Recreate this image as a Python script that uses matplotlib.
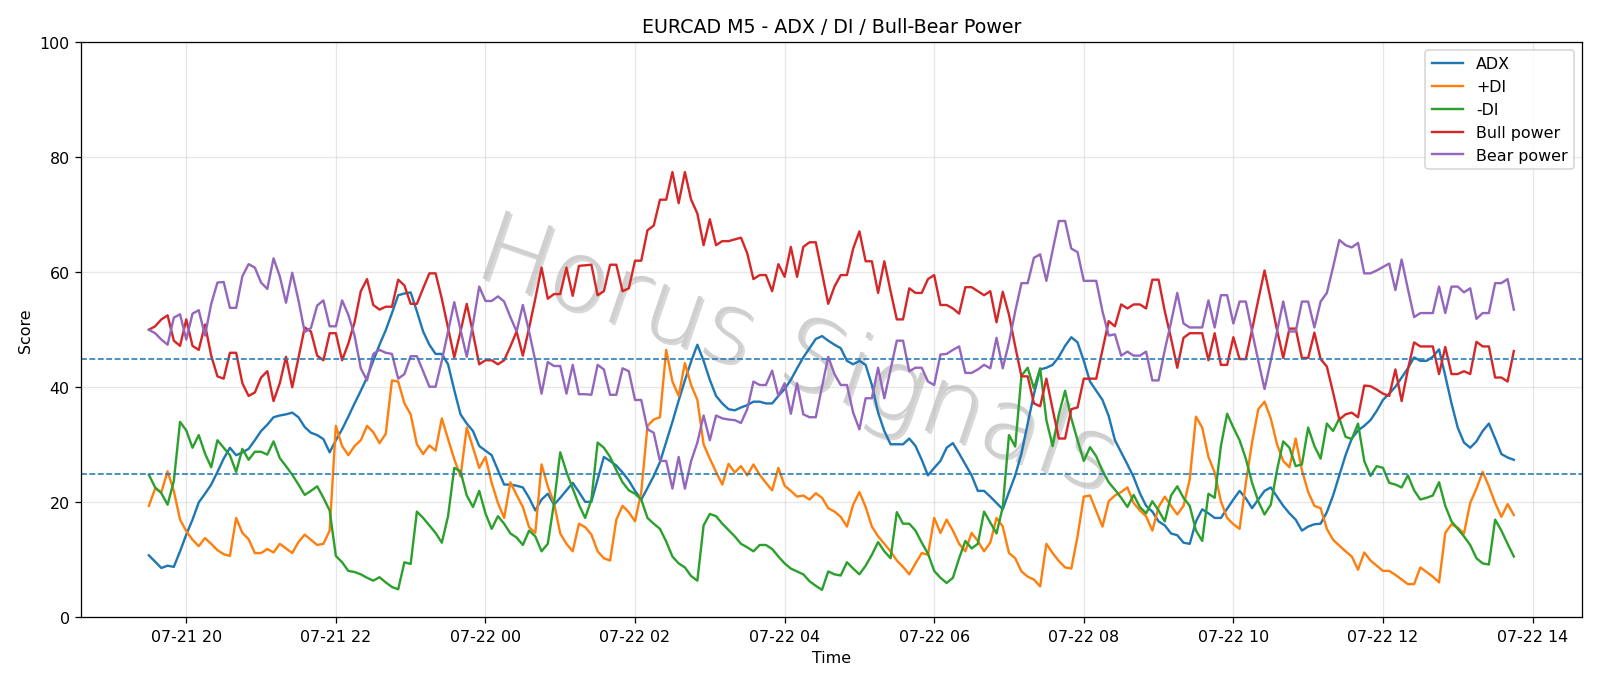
import matplotlib
matplotlib.use("Agg")
import matplotlib.pyplot as plt
import matplotlib.dates as mdates
import matplotlib.patheffects as pe
import pandas as pd

start_time = "2025-07-21 19:30"
n_points = 220
times = pd.date_range(start=start_time, periods=n_points, freq="5min")

adx = [10.8, 9.7, 8.6, 9.0, 8.8, 11.5, 14.4, 17, 20, 21.5, 23.1, 25.3, 27.6, 29.5, 28.2, 28.7, 29.3, 30.8, 32.4, 33.5,
       34.8, 35.1, 35.3, 35.6, 34.8, 33.1, 32.1, 31.7, 31.0, 28.7, 30.8, 32.7, 34.9, 37.2, 39.4, 41.7, 44.6, 47.4, 49.9,
       52.9, 56, 56.3, 56.5, 53.2, 49.7, 47.4, 45.8, 45.8, 44, 39.5, 35.3, 33.7, 32.4, 29.8, 29, 28.2, 25.6, 23.1, 23.1,
       22.9, 22.6, 20.8, 18.6, 20.5, 21.5, 19.6, 20.8, 22.1, 23.4, 21.8, 20.1, 20.1, 24, 27.9, 27.2, 26.4, 25.2, 23.8,
       22, 20.5, 22.5, 24.6, 27, 30.5, 34, 37.7, 41.2, 44.5, 47.4, 44.6, 41.3, 38.5, 37.2, 36.2, 36, 36.5, 36.9, 37.5,
       37.5, 37.2, 37.2, 38.5, 39.7, 41.3, 43.3, 45.2, 46.8, 48.4, 48.9, 48.1, 47.4, 46.8, 44.6, 44, 44.6, 43.9,
       40.4, 35.6, 32.4, 30.1, 30.1, 30.1, 31.1, 29.8, 27.4, 24.7, 26, 27.2, 29.5, 30.3, 28.5, 26.6, 24.7, 22, 22, 21,
       19.9, 18.8, 21.8, 24.7, 28.5, 33.7, 38.8, 43.1, 43.4, 43.9, 45.3, 47.2, 48.7, 47.8, 44.6, 41, 39.4, 37.8, 35,
       30.8, 28.7, 26.6, 24.4, 21.6, 19.4, 18.4, 16.7, 16, 14.6, 14.3, 13, 12.8, 16.7, 18.8, 18.1, 17.3, 17.3, 18.9,
       20.5, 22, 20.7, 19, 20.5, 22, 22.6, 21, 19.4, 18.1, 17, 15.1, 15.8, 16.2, 16.3, 18.3, 21.2, 24.7, 28.2,
       31.1, 32.5, 33.3, 34.3, 35.9, 37.8, 38.9, 40.1, 41.7, 43.3, 45.2, 44.6, 44.6, 45.3, 46.6, 42, 37.2, 33, 30.4,
       29.5, 30.6, 32.4, 33.7, 31.1, 28.4, 27.8, 27.4]

plus_di = [19.4, 22.4, 21.8, 25.4, 22, 17, 15, 13.5, 12.4, 13.8, 12.8, 11.7, 11, 10.7, 17.3, 14.7, 13.6, 11.2, 11.2,
           11.9, 11.3, 12.8, 12, 11.2, 13.1, 14.4, 13.5, 12.6, 12.8, 15.1, 33.3, 29.8, 28.2, 29.8, 30.8, 33.3, 32.2,
           30.3, 31.9,
           41.2, 41, 37.2, 35.3, 30.1, 28.4, 29.9, 29, 34.6, 31, 27.5, 24.5, 33, 29.5, 26, 27.9, 23.4, 19.9, 17.3, 23.5,
           21.3, 19.2, 15.7, 14.7, 26.6, 22.8, 19.9, 14.6, 12.8, 11.5, 16.3, 15.7, 14.4, 11.5, 10.3, 9.9, 17, 19.4, 18.3,
           16.7, 21.8, 33.3, 34.4, 34.8, 46.5, 41, 38.5, 44.2, 40.4, 37.8, 30.1, 27.6, 25.3, 23.1, 26.7, 25.2, 26.3,
           24.7, 26.6, 24.8, 23.4, 22.1, 26, 22.9, 22, 21, 21.2, 20.5, 21.6, 20.8, 19, 18.4, 17.5, 15.8, 19.6, 21.8, 19.2,
           15.8, 14.1, 12.8, 11.5, 9.9, 8.8, 7.5, 9.4, 11.2, 10.9, 17.3, 14.7, 17, 15.1, 12.8, 11.5, 14.7, 13.3, 11.5,
           13, 17.3, 15.8, 11.2, 10.3, 8, 7.1, 6.6, 5.4, 12.8, 11.2, 9.8, 8.7, 8.5, 14.1, 21, 21.2, 18.5, 15.8, 20.2,
           21.2, 21.8, 22.6, 19.9, 18.6, 17.6, 15.1, 19.2, 21, 19.4, 17.9, 19.4, 24, 34.9, 33, 27.9, 25.2, 20.2, 17.3,
           16.2, 15.4, 23.4, 30.4, 36.2, 37.5, 34.6, 30.1, 27.2, 26.1, 31.1, 25.6, 21.8, 19.4, 19, 15.4, 13.5, 12.5, 11.5,
           10.6, 8.3, 11.3, 9.9, 9, 8.1, 8.1, 7.4, 6.6, 5.8, 5.8, 8.7, 7.9, 7.1, 6.1, 14.7, 16.2, 15.6, 14.6, 19.9, 22.4,
           25.3, 22.8, 19.9, 17.5, 19.7, 17.8]

minus_di = [24.8, 22.6, 21.6, 19.6, 23.7, 34, 32.5, 29.5, 31.7, 28.5, 26.1, 30.8, 29.5, 28.2, 25.3, 29.3, 27.4, 28.8,
            28.8, 28.3, 30.6, 27.7, 26.3, 24.8, 23.1, 21.3, 22, 22.8, 20.8, 18.6, 10.7, 9.6, 8.1, 7.9, 7.5, 6.9, 6.4,
            7, 6.1,
            5.3, 4.9, 9.6, 9.3, 18.4, 17.3, 16, 14.7, 13, 17.6, 26, 25.4, 21.2, 19.2, 22, 18.1, 15.4, 17.6, 16.3, 14.6,
            13.9, 12.6, 15.1, 14.1, 11.5, 12.8, 19.9, 28.7, 25.3, 22.4, 19.6, 17.3, 20.5, 30.4, 29.5, 27.9, 25.6, 23.5,
            22.1,
            21.5, 20.5, 17.3, 16.3, 15.4, 13.2, 10.6, 9.4, 8.7, 7.2, 6.4, 16, 18, 17.6, 16.3, 15.2, 14.1, 12.8, 12.2,
            11.5, 12.6, 12.6, 11.9, 10.6, 9.4, 8.5, 8, 7.5, 6.3, 5.5, 4.8, 8, 7.5, 7.3, 9.6, 8.5, 7.5, 9,
            10.9, 13.1, 11.5, 10.3, 18.3, 16.3, 16.3, 15.1, 13, 11.1, 8.1, 6.9, 6, 6.9, 10.3, 13.3, 12, 12.8, 18.4, 16.5,
            14.6, 19.2, 31.7, 29.7, 42, 43.4, 39.8, 43.3, 34.3, 29.8, 35.3, 39.4, 34.6, 30.8, 27.2, 29.6, 28, 25.5, 23.5,
            22.2, 20.8, 19.2, 21.3, 19.2, 18.1, 20.2, 18.6, 16.7, 21.2, 22.8, 20.8, 19.4, 15.1, 13.3, 21.5, 20.8, 29.8,
            35.4, 33, 30.8, 27.6, 23.4, 20.2, 17.9, 19.6, 25.6, 30.6, 29.5, 26.3, 26.6, 33, 29.8, 27.6, 33.7, 32.4, 34.6,
            31.4,
            31, 33.7, 27.2, 24.6, 26.3, 26, 23.4, 23.1, 22.6, 24.7, 22.1, 20.5, 20.8, 21.2, 23.5, 19.4, 16.7, 15.4, 14.1,
            12.6, 10.3, 9.4, 9.2, 17, 15.1, 12.8, 10.6]

bull_power = [50, 50.6, 51.8, 52.5, 48.1, 47.2, 51.8, 47.2, 46.5, 50.9, 45.5, 41.9, 41.5, 46, 46, 40.7, 38.5, 39.1,
              41.7, 42.8, 37.6, 40.7, 45.3, 40, 45.1, 50.4, 49.7, 45.5, 44.7, 49.4, 49.4, 44.7, 47.6, 51.3, 56.7, 58.8,
              54.3, 53.5, 54,
              54, 58.7, 57.7, 54.5, 54.5, 57.2, 59.8, 59.8, 55.4, 50.3, 45.2, 49.7, 54.5, 49.4, 44, 44.7, 44.7, 44, 44.7,
              47.1, 49.7, 45.5, 50.3, 55.4, 60.8, 55.4, 56.2, 56.2, 60.8, 55.9, 61.1, 61.2, 61.3, 56, 56.7, 61.3, 61.3,
              56.7, 57.2,
              62, 62, 67.3, 68.1, 72.6, 72.6, 77.4, 72, 77.4, 72.6, 70.2, 64.7, 69.2, 64.7, 65.4, 65.4, 65.7, 66, 63.3,
              58.8, 59.5, 59.5, 56.7, 61.4, 59.2, 64.4, 59.2, 64.4, 65.2, 65.2, 59.9, 54.5, 57.5, 59.5, 59.5, 64.1, 67.1,
              61.9,
              61.9, 56.4, 61.9, 56.7, 51.8, 51.8, 57.2, 56.4, 56.4, 58.8, 59.5, 54.3, 54.3, 53.7, 52.8, 57.4, 57.4, 56.7,
              56, 56.7, 51.3, 56.6, 52.6, 47.1, 41.9, 41.9, 37.2, 36.7, 41.5, 36.2, 31.1, 31.1, 36.2, 36.5, 41.5, 41.5,
              41.5, 46.5, 51.5,
              50.6, 54.4, 53.7, 54.4, 54.4, 53.7, 58.7, 58.7, 53.2, 48.5, 43.4, 48.6, 49.4, 49.4, 49.4, 44.7, 49.4, 43.9,
              43.9, 48.7, 44.9, 44.9, 50, 55.2, 60.3, 55.2, 50, 45.1, 50.2, 50.2, 45.1, 45.1, 49.5, 44.9, 43.6, 39.1,
              34.4, 35.3,
              35.6, 34.8, 40.3, 40.2, 39.6, 38.9, 38.5, 43.1, 37.6, 43.1, 47.8, 47.1, 47.1, 47.1, 42.3, 47, 42.3, 42.3,
              42.8, 42.3, 47.9, 47.1, 47.1, 41.7, 41.7, 41, 46.3]

bear_power = [50, 49.4, 48.3, 47.4, 52.1, 52.7, 48.3, 52.8, 53.4, 49, 54.5, 58.2, 58.3, 53.8, 53.8, 59.3, 61.4, 60.8,
              58.2, 57.1, 62.4, 59.3, 54.7, 59.9, 55.1, 49.6, 50.3, 54.2, 55.1, 50.6, 50.6, 55.1, 52.6, 49, 43.3, 41.2,
              45.8, 46.5, 46,
              45.8, 41.5, 42.3, 45.4, 45.4, 42.8, 40.1, 40.1, 44.6, 49.7, 54.8, 50, 45.3, 51, 57.5, 55, 55, 55.8, 54.9,
              52.2, 49.7, 54.3, 49.7, 44.6, 38.9, 44.4, 43.7, 43.7, 38.9, 43.9, 38.8, 38.8, 38.7, 43.9, 43.1, 38.7, 38.7,
              43.3, 42.8,
              37.8, 37.8, 32.7, 32.1, 27.2, 27.2, 22.4, 27.9, 22.4, 27.2, 30.4, 35.1, 30.8, 35.1, 34.6, 34.4, 34.3, 33.8,
              36.2, 41, 40.4, 40.4, 42.9, 38.5, 40.7, 35.4, 40.7, 35.3, 34.8, 34.8, 40.1, 45.3, 42.3, 40.4, 40.4, 35.6,
              32.7, 38.1,
              38.1, 43.4, 38.1, 43.1, 48.1, 48.1, 42.8, 43.4, 43.4, 41, 40.4, 45.7, 45.8, 46.5, 47.1, 42.5, 42.5, 43.1,
              43.9, 43.3, 48.6, 43.3, 47.8, 53.2, 58.1, 58.1, 62.5, 63.1, 58.5, 63.8, 68.9, 68.9, 64.1, 63.5, 58.5, 58.5,
              58.5, 53.2, 49,
              49.2, 45.5, 46.2, 45.5, 45.5, 46.2, 41.2, 41.2, 46.5, 51.3, 56.4, 51.1, 50.4, 50.4, 50.4, 55.1, 50.4, 56,
              56, 51.1, 54.9, 54.9, 49.7, 44.6, 39.7, 44.6, 49.7, 54.9, 49.7, 49.7, 54.9, 54.9, 50.4, 54.9, 56.4, 60.9,
              65.6, 64.7,
              64.3, 65.1, 59.8, 59.8, 60.3, 60.9, 61.5, 56.9, 62.2, 57.1, 52.2, 52.9, 52.9, 52.9, 57.5, 52.9, 57.5, 57.5,
              56.5, 57.2, 51.9, 52.9, 52.9, 58.1, 58.1, 58.8, 53.5]

series = [("ADX", adx), ("+DI", plus_di), ("-DI", minus_di), ("Bull power", bull_power), ("Bear power", bear_power)]
threshold_levels = [45, 25]

fig = plt.figure(figsize=(14, 6.0025), dpi=114.2857)
ax = fig.add_axes([0.0504, 0.0984, 0.9384, 0.8389])

for name, vals in series:
    ax.plot(times, vals, label=name, linewidth=1.5)

for lvl in threshold_levels:
    ax.axhline(lvl, color="tab:blue", linestyle="--", linewidth=1)

ax.set_ylim(0, 100)
ax.grid(True, alpha=0.3)
ax.xaxis.set_major_locator(mdates.HourLocator(byhour=range(0, 24, 2)))
ax.xaxis.set_major_formatter(mdates.DateFormatter("%m-%d %H"))
ax.set_title("EURCAD M5 - ADX / DI / Bull-Bear Power")
ax.set_xlabel("Time")
ax.set_ylabel("Score")
ax.legend(loc="upper right")

wm = ax.text(0.477, 0.452, "Horus Signals", transform=ax.transAxes, fontsize=62,
             color="#cfcfcf", rotation=-19, ha="center", va="center",
             family="DejaVu Sans", fontweight="light", zorder=0.5)
wm.set_path_effects([pe.withSimplePatchShadow(offset=(1.5, -1.5), shadow_rgbFace="#909090", alpha=0.35)])

fig.savefig("out.png", dpi=114.2857)
